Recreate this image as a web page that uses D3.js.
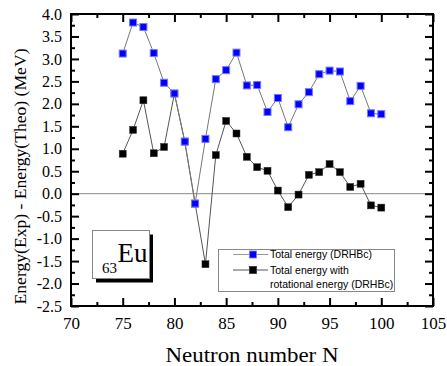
<!DOCTYPE html>
<html>
<head>
<meta charset="utf-8">
<script src="https://cdn.jsdelivr.net/npm/d3@7"></script>
<style>
  html, body { margin: 0; padding: 0; background: #fff; }
  svg { display: block; }
  .serif { font-family: "Liberation Serif", "Times New Roman", serif; }
</style>
</head>
<body>
<div id="chart"></div>
<script>
// neutron numbers N
var neutrons = [75, 76, 77, 78, 79, 80, 81, 82, 83, 84, 85, 86, 87,
  88, 89, 90, 91, 92, 93, 94, 95, 96, 97, 98, 99, 100];
// Total energy (DRHBc)
var totalEnergy = [3.12, 3.81, 3.71, 3.13, 2.47, 2.23, 1.16, -0.22, 1.22, 2.55, 2.75, 3.14, 2.41,
  2.42, 1.82, 2.13, 1.48, 1.99, 2.26, 2.66, 2.74, 2.72, 2.06, 2.40, 1.79, 1.77];
// Total energy with rotational energy (DRHBc)
var rotEnergy = [0.89, 1.42, 2.08, 0.90, 1.04, 2.23, 1.16, -0.22, -1.57, 0.86, 1.62, 1.34, 0.82,
  0.59, 0.51, 0.07, -0.30, -0.02, 0.42, 0.48, 0.66, 0.48, 0.15, 0.22, -0.26, -0.31];

var xTicks = [70, 75, 80, 85, 90, 95, 100, 105];
var xMinor = [72.5, 77.5, 82.5, 87.5, 92.5, 97.5, 102.5];
var yTicks = [-2.5, -2.0, -1.5, -1.0, -0.5, 0.0, 0.5, 1.0, 1.5, 2.0, 2.5, 3.0, 3.5, 4.0];
var yMinor = [-2.25, -1.75, -1.25, -0.75, -0.25, 0.25, 0.75, 1.25, 1.75, 2.25, 2.75, 3.25, 3.75];

var seriesNames = ["Total energy (DRHBc)", "Total energy with", "rotational energy (DRHBc)"];

var fWidth = 447, fHeight = 366;
var fPlotLeft = 71, fPlotRight = 433, fPlotTop = 14, fPlotBottom = 306;

var svg = d3.select("#chart").append("svg")
  .attr("width", fWidth)
  .attr("height", fHeight);

var x = d3.scaleLinear().domain([70, 105]).range([fPlotLeft, fPlotRight]);
var y = d3.scaleLinear().domain([-2.5, 4]).range([fPlotBottom, fPlotTop]);

var sans = "'Liberation Sans', Arial, sans-serif";

// zero line
svg.append("line")
  .attr("x1", x(70)).attr("x2", x(105))
  .attr("y1", y(0)).attr("y2", y(0))
  .attr("stroke", "#888").attr("stroke-width", 1);

function styleAxis(g) {
  g.attr("font-family", null);
  g.select(".domain").remove();
  g.selectAll(".tick line").attr("stroke", "#000").attr("stroke-width", 2);
  g.selectAll("text").attr("class", "serif").attr("fill", "#000");
}

var fmt = function(v) { return v.toFixed(1); };

// bottom
svg.append("g").attr("transform", "translate(0," + fPlotBottom + ")")
  .call(d3.axisBottom(x).tickValues(xTicks).tickSizeInner(-8).tickSizeOuter(0).tickPadding(11))
  .call(styleAxis)
  .selectAll("text").attr("font-size", 17);
svg.append("g").attr("transform", "translate(0," + fPlotBottom + ")")
  .call(d3.axisBottom(x).tickValues(xMinor).tickSize(-4).tickFormat(""))
  .call(styleAxis);
// top
svg.append("g").attr("transform", "translate(0," + fPlotTop + ")")
  .call(d3.axisTop(x).tickValues(xTicks).tickSize(-8).tickFormat(""))
  .call(styleAxis);
svg.append("g").attr("transform", "translate(0," + fPlotTop + ")")
  .call(d3.axisTop(x).tickValues(xMinor).tickSize(-4).tickFormat(""))
  .call(styleAxis);
// left
svg.append("g").attr("transform", "translate(" + fPlotLeft + ",0)")
  .call(d3.axisLeft(y).tickValues(yTicks).tickSizeInner(-8).tickSizeOuter(0).tickPadding(9).tickFormat(fmt))
  .call(styleAxis)
  .selectAll("text").attr("font-size", 16);
svg.append("g").attr("transform", "translate(" + fPlotLeft + ",0)")
  .call(d3.axisLeft(y).tickValues(yMinor).tickSize(-4).tickFormat(""))
  .call(styleAxis);
// right
svg.append("g").attr("transform", "translate(" + fPlotRight + ",0)")
  .call(d3.axisRight(y).tickValues(yTicks).tickSize(-8).tickFormat(""))
  .call(styleAxis);
svg.append("g").attr("transform", "translate(" + fPlotRight + ",0)")
  .call(d3.axisRight(y).tickValues(yMinor).tickSize(-4).tickFormat(""))
  .call(styleAxis);

// frame
svg.append("rect")
  .attr("x", fPlotLeft).attr("y", fPlotTop)
  .attr("width", fPlotRight - fPlotLeft).attr("height", fPlotBottom - fPlotTop)
  .attr("fill", "none").attr("stroke", "#000").attr("stroke-width", 2);

// series
var line = d3.line()
  .x(function(d) { return x(d[0]); })
  .y(function(d) { return y(d[1]); });

var ms = 7;
function drawSeries(values, lineColor, fill, stroke, sw) {
  var pts = neutrons.map(function(n, i) { return [n, values[i]]; });
  svg.append("path").datum(pts)
    .attr("d", line)
    .attr("fill", "none").attr("stroke", lineColor).attr("stroke-width", 1);
  svg.append("g").selectAll("rect").data(pts).join("rect")
    .attr("x", function(d) { return x(d[0]) - ms / 2; })
    .attr("y", function(d) { return y(d[1]) - ms / 2; })
    .attr("width", ms).attr("height", ms)
    .attr("fill", fill).attr("stroke", stroke).attr("stroke-width", sw);
}
drawSeries(rotEnergy, "#555", "#000", "#333", 0.5);
drawSeries(totalEnergy, "#777", "#0000ff", "#7777ff", 1);

// legend
var lg = svg.append("g");
lg.append("rect")
  .attr("x", 218.5).attr("y", 249.5).attr("width", 176).attr("height", 42)
  .attr("fill", "#fff").attr("stroke", "#888").attr("stroke-width", 1);
[[254.5, "#999", "#0000ff", "#7777ff"], [270, "#555", "#000", "#333"]].forEach(function(r) {
  lg.append("line").attr("x1", 233).attr("x2", 268).attr("y1", r[0]).attr("y2", r[0])
    .attr("stroke", r[1]).attr("stroke-width", 1);
  lg.append("rect").attr("x", 253 - ms / 2).attr("y", r[0] - ms / 2)
    .attr("width", ms).attr("height", ms)
    .attr("fill", r[2]).attr("stroke", r[3]).attr("stroke-width", 0.8);
});
[258.3, 273.8, 288].forEach(function(yy, i) {
  lg.append("text").attr("x", 270).attr("y", yy)
    .attr("font-family", sans).attr("font-size", 10.5).attr("fill", "#000")
    .text(seriesNames[i]);
});

// 63Eu label box
svg.append("rect").attr("x", 96).attr("y", 234.5).attr("width", 57).attr("height", 48)
  .attr("fill", "#000");
svg.append("rect").attr("x", 92.5).attr("y", 230.5).attr("width", 57).attr("height", 48)
  .attr("fill", "#fff").attr("stroke", "#888").attr("stroke-width", 1);
svg.append("text").attr("class", "serif").attr("x", 102).attr("y", 272.5)
  .attr("font-size", 15).text("63");
svg.append("text").attr("class", "serif").attr("x", 117.5).attr("y", 261.5)
  .attr("font-size", 27).text("Eu");

// axis titles
svg.append("text").attr("class", "serif")
  .attr("x", 252).attr("y", 361.5)
  .attr("text-anchor", "middle")
  .attr("font-size", 21)
  .attr("textLength", 173).attr("lengthAdjust", "spacingAndGlyphs")
  .text("Neutron number N");
svg.append("text").attr("class", "serif")
  .attr("transform", "translate(26,176.5) rotate(-90)")
  .attr("text-anchor", "middle")
  .attr("font-size", 16.5)
  .attr("textLength", 256).attr("lengthAdjust", "spacingAndGlyphs")
  .text("Energy(Exp) - Energy(Theo) (MeV)");
</script>
</body>
</html>
